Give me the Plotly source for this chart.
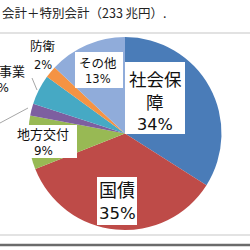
import plotly.graph_objects as go

# Data
categories = ["社会保障", "国債", "地方交付", "文教", "公共事業", "防衛", "その他"]
values = [34, 35, 9, 2, 5, 2, 13]
colors = ["#4A7CB8", "#BE4B48", "#98B954", "#7D5FA0", "#46A9C4", "#F59343", "#90ACDA"]
title_text = "会計＋特別会計（233 兆円）."

W, H = 250, 250
def px(x):
    return x / W
def py(y):
    return 1 - y / H

fig = go.Figure()
fig.add_trace(go.Pie(
    labels=categories, values=values, sort=False, direction="clockwise", rotation=0,
    marker=dict(colors=colors, line=dict(width=0)),
    textinfo="none", hoverinfo="label+percent", showlegend=False,
    domain=dict(x=[px(28), px(222)], y=[py(230), py(37)]),
))

FONT = "Noto Sans CJK JP"
NUMFONT = "DejaVu Sans"
pct = [f"{v}%" for v in values]
# index: (lines, x center, line y's, font size, box (x0,y0,x1,y1) or None)
label_specs = {
    0: (["社会保", "障", pct[0]], 155, [78, 101, 124], 17.5, (125, 62, 185, 134)),
    1: (["国債", pct[1]], 117, [189, 213], 18, (97, 177, 137, 225)),
    2: (["地方交付", pct[2]], 43, [133, 151], 13, (10, 125, 77, 158)),
    4: (["公共事業", pct[4]], -1, [70, 88], 13, None),
    5: (["防衛", pct[5]], 43, [46, 65], 12.5, None),
    6: (["その他", pct[6]], 98, [62, 79], 12.5, (75, 52, 123, 88)),
}
annotations = []
shapes = []
for i, (lines, x, ys, s, box) in label_specs.items():
    if box:
        x0, y0, x1, y1 = box
        shapes.append(dict(type="rect", xref="paper", yref="paper",
                           x0=px(x0), x1=px(x1), y0=py(y1), y1=py(y0),
                           fillcolor="white", line=dict(width=0), layer="above"))
    for t, y in zip(lines, ys):
        is_num = t.endswith("%")
        annotations.append(dict(
            x=px(x), y=py(y), xref="paper", yref="paper", text=t, showarrow=False,
            font=dict(family=NUMFONT if is_num else FONT, size=s * (0.92 if is_num else 1),
                      color="#111111"),
            xanchor="center", yanchor="middle", align="center",
        ))
annotations.append(dict(
    x=px(0), y=py(12), xref="paper", yref="paper", text=title_text, showarrow=False,
    font=dict(family=FONT, size=12.5, color="#222222"), xanchor="left", yanchor="middle",
))

shapes += [
    dict(type="line", xref="paper", yref="paper", x0=0, x1=1, y0=py(33), y1=py(33),
         line=dict(color="#D9D9D9", width=1.5)),
    dict(type="line", xref="paper", yref="paper", x0=0, x1=1, y0=py(235), y1=py(235),
         line=dict(color="#E3E3E3", width=2)),
    dict(type="line", xref="paper", yref="paper", x0=0, x1=1, y0=py(245), y1=py(245),
         line=dict(color="#6B6B6B", width=2.5)),
    dict(type="line", xref="paper", yref="paper", x0=px(32), x1=px(37), y0=py(78), y1=py(90),
         line=dict(color="#A6A6A6", width=1)),
    dict(type="line", xref="paper", yref="paper", x0=px(0), x1=px(28), y0=py(123), y1=py(108),
         line=dict(color="#A6A6A6", width=1)),
]

fig.update_layout(
    width=W, height=H, margin=dict(l=0, r=0, t=0, b=0),
    paper_bgcolor="white", plot_bgcolor="white",
    annotations=annotations, shapes=shapes,
)
fig.write_html("out.html")
